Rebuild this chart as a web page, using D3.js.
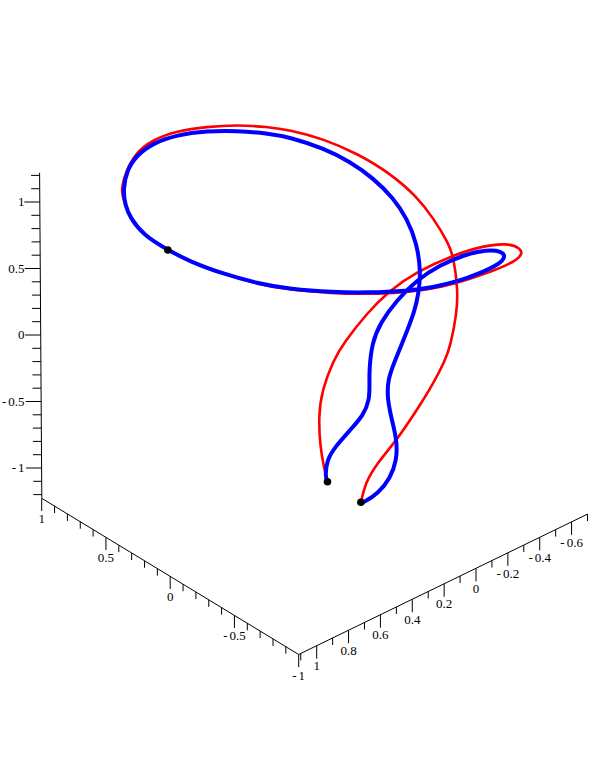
<!DOCTYPE html>
<html lang="en">
<head>
  <meta charset="UTF-8">
  <title>Space curves</title>
  <style>
    html, body { margin: 0; background: #fff; }
    svg { display: block; }
    text { font-family: "Liberation Serif", serif; font-size: 13px; fill: #000; }
  </style>
</head>
<body>
  <svg id="chart"></svg>

  <script src="https://d3js.org/d3.v7.min.js"></script>
  <script>
    const width = 602;
    const height = 780;

    // Tick labels of the three box axes
    const zLabels = [-1, -0.5, 0, 0.5, 1];
    const xLabels = [-1, -0.5, 0, 0.5, 1];
    const yLabels = [-0.6, -0.4, -0.2, 0, 0.2, 0.4, 0.6, 0.8, 1];

    // Curves: across = position read against the x axis
    // (horizontally), up = height read against the vertical axis
    const redAcross = [-1.224, -1.198, -1.167, -1.154, -1.181, -1.271, -1.349, -1.531, -1.712, -1.920,
      -2.205, -2.438, -2.620, -2.725, -2.745, -2.650, -2.465, -2.231, -1.998, -1.738,
      -1.479, -1.271, -0.934, -0.675, -0.415, -0.156, 0.018, 0.208, 0.311, 0.350, 0.374,
      0.376, 0.350, 0.272, 0.142, -0.052, -0.286, -0.519, -0.753, -0.934, -1.193,
      -1.453, -1.712, -1.920, -2.049, -2.166, -2.205, -2.239, -2.231, -2.179, -2.140,
      -2.049, -1.920, -1.764, -1.609, -1.517, -1.486];
    const redUp = [-1.103, -1.002, -0.840, -0.614, -0.414, -0.188, -0.062, 0.165, 0.338, 0.476,
      0.602, 0.671, 0.690, 0.656, 0.602, 0.535, 0.464, 0.389, 0.338, 0.314,
      0.308, 0.314, 0.338, 0.383, 0.459, 0.551, 0.639, 0.752, 0.880, 0.977, 1.053,
      1.115, 1.216, 1.366, 1.466, 1.534, 1.566, 1.579, 1.566, 1.541, 1.474,
      1.366, 1.216, 1.040, 0.877, 0.690, 0.589, 0.338, 0.165, -0.088, -0.188,
      -0.363, -0.564, -0.789, -0.965, -1.115, -1.253];

    const blueAcross = [-1.224, -1.206, -1.219, -1.284, -1.401, -1.504, -1.551, -1.551, -1.549, -1.570,
      -1.634, -1.764, -1.920, -2.101, -2.283, -2.465, -2.580, -2.610, -2.565, -2.412,
      -2.231, -2.049, -1.842, -1.531, -1.271, -0.934, -0.675, -0.415, -0.156, 0.018,
      0.208, 0.311, 0.350, 0.368, 0.337, 0.259, 0.130, -0.052, -0.286, -0.519, -0.753,
      -0.934, -1.193, -1.401, -1.582, -1.738, -1.842, -1.920, -1.951, -1.932, -1.907,
      -1.816, -1.751, -1.691, -1.691, -1.725, -1.764, -1.764, -1.712, -1.621, -1.504, -1.484];
    const blueUp = [-1.103, -1.065, -0.940, -0.840, -0.714, -0.602, -0.489, -0.363, -0.263, -0.060,
      0.090, 0.263, 0.414, 0.526, 0.602, 0.642, 0.630, 0.589, 0.535, 0.464,
      0.401, 0.359, 0.331, 0.318, 0.321, 0.344, 0.389, 0.459, 0.551, 0.639,
      0.752, 0.880, 0.977, 1.090, 1.241, 1.353, 1.444, 1.504, 1.534, 1.536, 1.517,
      1.486, 1.404, 1.303, 1.178, 1.028, 0.877, 0.690, 0.466, 0.314, 0.188,
      -0.038, -0.188, -0.338, -0.489, -0.639, -0.789, -0.940, -1.077, -1.190, -1.261, -1.258];

    // The three black points
    const dotAcross = [0.018, -1.224, -1.484];
    const dotUp = [0.639, -1.103, -1.258];

    // Vertical axis scales
    const zY = d3.scaleLinear().domain([-1, 1]).range([468, 202]);
    const zX = d3.scaleLinear().domain([-1, 1]).range([41.6, 39.8]);

    // Front left axis
    const xX = d3.scaleLinear().domain([-1, 1]).range([298.7, 41.7]);
    const xY = d3.scaleLinear().domain([-1, 1]).range([654.5, 498.3]);

    // Front right axis
    const yX = d3.scaleLinear().domain([0, 1]).range([476, 316.7]);
    const yY = d3.scaleLinear().domain([0, 1]).range([568.3, 645.7]);

    const svg = d3.select("#chart")
      .attr("width", width)
      .attr("height", height);

    const axes = svg.append("g")
      .attr("stroke", "#000")
      .attr("stroke-width", 1)
      .attr("fill", "none");

    function tick(x1, y1, x2, y2) {
      axes.append("line")
        .attr("x1", x1).attr("y1", y1)
        .attr("x2", x2).attr("y2", y2);
    }

    // Hyphen and digits are set a little apart, as in the reference
    function label(x, y, anchor, value) {
      const s = String(value);
      const t = svg.append("text")
        .attr("x", x).attr("y", y)
        .attr("text-anchor", anchor);
      if (s[0] === "-") {
        t.append("tspan").text("-");
        t.append("tspan").attr("dx", 2).text(s.slice(1));
      } else {
        t.text(s);
      }
    }

    // Vertical axis
    tick(zX(1.22), zY(1.22), zX(-1.225), zY(-1.225));
    d3.range(-12, 13).forEach(i => {
      const v = i / 10;
      const major = zLabels.includes(v);
      tick(zX(v), zY(v), zX(v) - (major ? 15.5 : 8.5), zY(v));
    });
    zLabels.forEach(v => label(24.5, zY(v) + 4, "end", v));

    // Front left axis
    tick(xX(1), xY(1), xX(-1), xY(-1));
    d3.range(-10, 11).forEach(i => {
      const v = i / 10;
      const major = xLabels.includes(v);
      tick(xX(v), xY(v), xX(v), xY(v) + (major ? 12.6 : 7));
    });
    xLabels.forEach(v => label(xX(v), xY(v) + 25, "middle", v));

    // Front right axis
    tick(yX(1.113), yY(1.113), yX(-0.7), yY(-0.7));
    d3.range(-7, 12).forEach(i => {
      const v = i / 10;
      const major = yLabels.includes(v);
      tick(yX(v), yY(v), yX(v), yY(v) + (major ? 13 : 7));
    });
    yLabels.forEach(v => label(yX(v), yY(v) + 24.7, "middle", v));

    // Curves, smoothed since the points are hand read
    const curve = d3.line()
      .x(d => xX(d[0]))
      .y(d => zY(d[1]))
      .curve(d3.curveBasis);

    svg.append("path")
      .datum(d3.zip(redAcross, redUp))
      .attr("d", curve)
      .attr("fill", "none")
      .attr("stroke", "#f00")
      .attr("stroke-width", 2.6);

    svg.append("path")
      .datum(d3.zip(blueAcross, blueUp))
      .attr("d", curve)
      .attr("fill", "none")
      .attr("stroke", "#00f")
      .attr("stroke-width", 4);

    svg.selectAll("circle")
      .data(d3.zip(dotAcross, dotUp))
      .join("circle")
      .attr("cx", d => xX(d[0]))
      .attr("cy", d => zY(d[1]))
      .attr("r", 3.8)
      .attr("fill", "#000");
  </script>
</body>
</html>
